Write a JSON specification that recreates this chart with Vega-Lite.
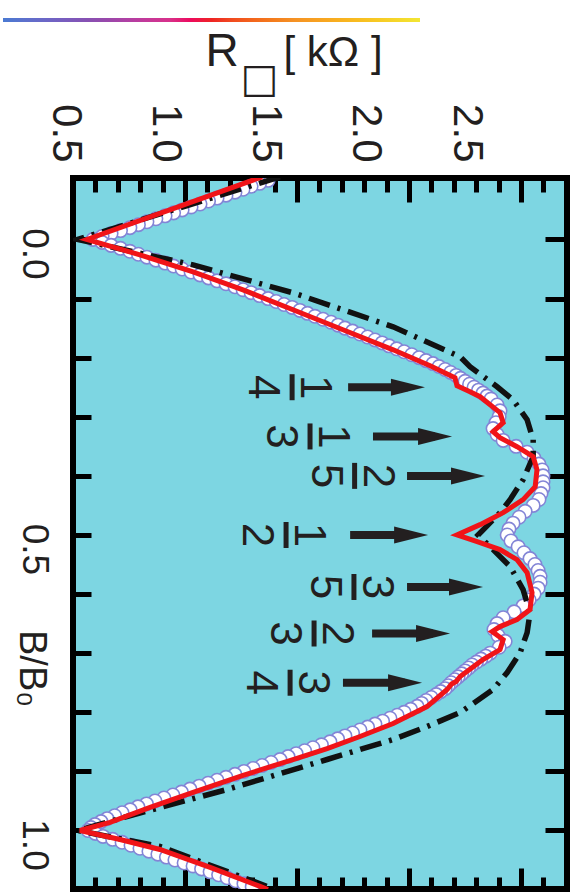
{
  "$schema": "https://vega.github.io/schema/vega-lite/v6.json",
  "width": 494,
  "height": 711,
  "autosize": {"type": "none"},
  "padding": {"left": 73, "top": 178, "right": 12, "bottom": 5},
  "background": "white",
  "config": {
    "view": {"fill": "#7dd6e2", "stroke": "#000000", "strokeWidth": 6},
    "axis": {"grid": false, "domain": false, "labelFlush": false, "labelOverlap": false, "labelFont": "Liberation Sans", "titleFont": "Liberation Sans", "titleFontWeight": "normal", "tickColor": "#000000", "labelColor": "#231f20", "titleColor": "#231f20"}
  },
  "datasets": {
    "circles": [
      {"b":-0.100,"r":1.371},{"b":-0.095,"r":1.333},{"b":-0.090,"r":1.295},{"b":-0.085,"r":1.259},{"b":-0.080,"r":1.223},{"b":-0.075,"r":1.183},{"b":-0.070,"r":1.143},{"b":-0.065,"r":1.105},{"b":-0.060,"r":1.067},{"b":-0.055,"r":1.027},
      {"b":-0.050,"r":0.987},{"b":-0.045,"r":0.949},{"b":-0.040,"r":0.911},{"b":-0.035,"r":0.870},{"b":-0.030,"r":0.830},{"b":-0.025,"r":0.792},{"b":-0.020,"r":0.754},{"b":-0.015,"r":0.712},{"b":-0.010,"r":0.670},{"b":-0.005,"r":0.630},
      {"b":0.000,"r":0.589},{"b":0.005,"r":0.630},{"b":0.010,"r":0.670},{"b":0.015,"r":0.712},{"b":0.020,"r":0.754},{"b":0.025,"r":0.792},{"b":0.030,"r":0.830},{"b":0.035,"r":0.870},{"b":0.040,"r":0.911},{"b":0.045,"r":0.949},
      {"b":0.050,"r":0.987},{"b":0.055,"r":1.027},{"b":0.060,"r":1.067},{"b":0.065,"r":1.105},{"b":0.070,"r":1.143},{"b":0.075,"r":1.183},{"b":0.080,"r":1.223},{"b":0.085,"r":1.259},{"b":0.090,"r":1.295},{"b":0.095,"r":1.333},
      {"b":0.100,"r":1.371},{"b":0.105,"r":1.407},{"b":0.110,"r":1.442},{"b":0.115,"r":1.478},{"b":0.120,"r":1.513},{"b":0.125,"r":1.547},{"b":0.130,"r":1.580},{"b":0.135,"r":1.616},{"b":0.140,"r":1.652},{"b":0.145,"r":1.683},
      {"b":0.150,"r":1.714},{"b":0.155,"r":1.748},{"b":0.160,"r":1.781},{"b":0.165,"r":1.815},{"b":0.170,"r":1.848},{"b":0.175,"r":1.880},{"b":0.180,"r":1.911},{"b":0.185,"r":1.945},{"b":0.190,"r":1.978},{"b":0.195,"r":2.012},
      {"b":0.200,"r":2.045},{"b":0.205,"r":2.076},{"b":0.210,"r":2.107},{"b":0.215,"r":2.134},{"b":0.220,"r":2.161},{"b":0.225,"r":2.186},{"b":0.230,"r":2.210},{"b":0.235,"r":2.230},{"b":0.240,"r":2.250},{"b":0.245,"r":2.270},
      {"b":0.250,"r":2.290},{"b":0.255,"r":2.310},{"b":0.260,"r":2.330},{"b":0.265,"r":2.348},{"b":0.270,"r":2.366},{"b":0.28,"r":2.393},{"b":0.29,"r":2.406},
      {"b":0.30,"r":2.402},{"b":0.31,"r":2.388},{"b":0.32,"r":2.375},{"b":0.33,"r":2.393},{"b":0.34,"r":2.420},{"b":0.35,"r":2.478},{"b":0.36,"r":2.527},{"b":0.37,"r":2.558},{"b":0.38,"r":2.580},{"b":0.39,"r":2.594},
      {"b":0.40,"r":2.598},{"b":0.41,"r":2.598},{"b":0.42,"r":2.598},{"b":0.43,"r":2.589},{"b":0.44,"r":2.580},{"b":0.45,"r":2.554},{"b":0.46,"r":2.518},{"b":0.47,"r":2.491},{"b":0.48,"r":2.464},{"b":0.49,"r":2.446},
      {"b":0.50,"r":2.438},{"b":0.51,"r":2.455},{"b":0.52,"r":2.487},{"b":0.53,"r":2.513},{"b":0.54,"r":2.540},{"b":0.55,"r":2.562},{"b":0.56,"r":2.576},{"b":0.57,"r":2.585},{"b":0.58,"r":2.585},{"b":0.59,"r":2.576},
      {"b":0.60,"r":2.558},{"b":0.61,"r":2.536},{"b":0.62,"r":2.509},{"b":0.63,"r":2.469},{"b":0.64,"r":2.420},{"b":0.65,"r":2.393},{"b":0.66,"r":2.379},{"b":0.67,"r":2.397},{"b":0.68,"r":2.429},{"b":0.69,"r":2.402},
      {"b":0.700,"r":2.362},{"b":0.705,"r":2.342},{"b":0.710,"r":2.321},{"b":0.715,"r":2.301},{"b":0.720,"r":2.281},{"b":0.725,"r":2.266},{"b":0.730,"r":2.250},{"b":0.735,"r":2.235},{"b":0.740,"r":2.219},{"b":0.745,"r":2.204},
      {"b":0.750,"r":2.188},{"b":0.755,"r":2.175},{"b":0.760,"r":2.161},{"b":0.765,"r":2.141},{"b":0.770,"r":2.121},{"b":0.775,"r":2.099},{"b":0.780,"r":2.076},{"b":0.785,"r":2.056},{"b":0.790,"r":2.036},{"b":0.795,"r":2.007},
      {"b":0.800,"r":1.978},{"b":0.805,"r":1.947},{"b":0.810,"r":1.915},{"b":0.815,"r":1.882},{"b":0.820,"r":1.848},{"b":0.825,"r":1.815},{"b":0.830,"r":1.781},{"b":0.835,"r":1.748},{"b":0.840,"r":1.714},{"b":0.845,"r":1.681},
      {"b":0.850,"r":1.647},{"b":0.855,"r":1.609},{"b":0.860,"r":1.571},{"b":0.865,"r":1.534},{"b":0.870,"r":1.496},{"b":0.875,"r":1.460},{"b":0.880,"r":1.424},{"b":0.885,"r":1.384},{"b":0.890,"r":1.344},{"b":0.895,"r":1.304},
      {"b":0.900,"r":1.263},{"b":0.905,"r":1.223},{"b":0.910,"r":1.183},{"b":0.915,"r":1.143},{"b":0.920,"r":1.103},{"b":0.925,"r":1.063},{"b":0.930,"r":1.022},{"b":0.935,"r":0.984},{"b":0.940,"r":0.946},{"b":0.945,"r":0.906},
      {"b":0.950,"r":0.866},{"b":0.955,"r":0.828},{"b":0.960,"r":0.790},{"b":0.965,"r":0.755},{"b":0.970,"r":0.719},{"b":0.975,"r":0.686},{"b":0.980,"r":0.652},{"b":0.985,"r":0.625},{"b":0.990,"r":0.598},{"b":0.995,"r":0.580},
      {"b":1.000,"r":0.567},{"b":1.005,"r":0.600},{"b":1.010,"r":0.634},{"b":1.015,"r":0.677},{"b":1.020,"r":0.719},{"b":1.025,"r":0.759},{"b":1.030,"r":0.799},{"b":1.035,"r":0.839},{"b":1.040,"r":0.879},{"b":1.045,"r":0.917},
      {"b":1.050,"r":0.955},{"b":1.055,"r":0.996},{"b":1.060,"r":1.036},{"b":1.065,"r":1.074},{"b":1.070,"r":1.112},{"b":1.075,"r":1.150},{"b":1.080,"r":1.188},{"b":1.085,"r":1.226},{"b":1.090,"r":1.263},{"b":1.095,"r":1.300}
    ],
    "red": [
      {"b":-0.106,"r":1.344},{"b":0.0,"r":0.5625},{"b":0.026,"r":0.799},{"b":0.0548,"r":1.036},{"b":0.0852,"r":1.259},{"b":0.119,"r":1.482},{"b":0.1528,"r":1.705},{"b":0.1867,"r":1.929},{"b":0.2137,"r":2.094},{"b":0.234,"r":2.205},{"b":0.2475,"r":2.214},{"b":0.2576,"r":2.272},{"b":0.266,"r":2.317},{"b":0.293,"r":2.406},{"b":0.310,"r":2.420},{"b":0.3253,"r":2.375},{"b":0.3354,"r":2.406},{"b":0.3506,"r":2.482},{"b":0.3675,"r":2.554},{"b":0.3895,"r":2.571},{"b":0.4182,"r":2.563},{"b":0.4402,"r":2.509},{"b":0.4622,"r":2.420},{"b":0.4825,"r":2.317},{"b":0.5,"r":2.214},{"b":0.5113,"r":2.304},{"b":0.5248,"r":2.406},{"b":0.5417,"r":2.482},{"b":0.5637,"r":2.527},{"b":0.5975,"r":2.549},{"b":0.6262,"r":2.540},{"b":0.6431,"r":2.482},{"b":0.655,"r":2.406},{"b":0.6634,"r":2.371},{"b":0.677,"r":2.420},{"b":0.6939,"r":2.406},{"b":0.7108,"r":2.330},{"b":0.7395,"r":2.228},{"b":0.748,"r":2.210},{"b":0.752,"r":2.190},{"b":0.7615,"r":2.170},{"b":0.7903,"r":2.080},{"b":0.8190,"r":1.929},{"b":0.8410,"r":1.781},{"b":0.8613,"r":1.634},{"b":0.8799,"r":1.482},{"b":0.9069,"r":1.259},{"b":0.9357,"r":1.036},{"b":0.9610,"r":0.844},{"b":0.9864,"r":0.665},{"b":1.0,"r":0.531},{"b":1.0152,"r":0.710},{"b":1.0321,"r":0.888},{"b":1.0625,"r":1.112},{"b":1.0946,"r":1.335},{"b":1.1,"r":1.370}
    ],
    "black": [
      {"b":-0.106,"r":1.424},{"b":0.0,"r":0.52},{"b":0.043,"r":1.036},{"b":0.0903,"r":1.482},{"b":0.1478,"r":1.929},{"b":0.1985,"r":2.228},{"b":0.2154,"r":2.272},{"b":0.2492,"r":2.393},{"b":0.2712,"r":2.464},{"b":0.3050,"r":2.527},{"b":0.3388,"r":2.554},{"b":0.3675,"r":2.554},{"b":0.4064,"r":2.509},{"b":0.4402,"r":2.451},{"b":0.4622,"r":2.406},{"b":0.5,"r":2.308},{"b":0.5248,"r":2.375},{"b":0.5535,"r":2.451},{"b":0.5924,"r":2.509},{"b":0.6313,"r":2.540},{"b":0.6651,"r":2.527},{"b":0.6989,"r":2.496},{"b":0.7327,"r":2.438},{"b":0.7615,"r":2.375},{"b":0.8004,"r":2.228},{"b":0.8241,"r":2.080},{"b":0.8461,"r":1.929},{"b":0.8799,"r":1.634},{"b":0.9306,"r":1.188},{"b":0.9763,"r":0.741},{"b":1.0,"r":0.52},{"b":1.0271,"r":0.888},{"b":1.0946,"r":1.366},{"b":1.1,"r":1.400}
    ],
    "ann": [
      {"num":"1","den":"4","b":0.25,"r_start":1.728,"r_tip":2.071,"r_bar":1.478},
      {"num":"1","den":"3","b":0.3333,"r_start":1.839,"r_tip":2.192,"r_bar":1.558},
      {"num":"2","den":"5","b":0.4,"r_start":1.991,"r_tip":2.339,"r_bar":1.757},
      {"num":"1","den":"2","b":0.5,"r_start":1.737,"r_tip":2.085,"r_bar":1.451},
      {"num":"3","den":"5","b":0.588,"r_start":1.991,"r_tip":2.330,"r_bar":1.754},
      {"num":"2","den":"3","b":0.6667,"r_start":1.835,"r_tip":2.183,"r_bar":1.576},
      {"num":"3","den":"4","b":0.75,"r_start":1.705,"r_tip":2.058,"r_bar":1.469}
    ]
  },
  "resolve": {"axis": {"x": "independent", "y": "independent"}},
  "layer": [
    {
      "data": {"name": "circles"},
      "mark": {"type": "point", "filled": true, "fill": "white", "stroke": "#8385d6", "strokeWidth": 1.6, "size": 180, "opacity": 1, "clip": true},
      "encoding": {
        "x": {"field": "r", "type": "quantitative", "scale": {"domain": [0.5, 2.705], "nice": false, "zero": false},
          "axis": {"orient": "top", "values": [0.5, 1, 1.5, 2, 2.5], "format": ".1f", "ticks": false, "tickSize": 0, "labelAngle": 90, "labelAlign": "right", "labelBaseline": "middle", "labelPadding": 16, "labelFontSize": 42, "labelOffset": {"expr": "-8 - (datum.value - 0.5) * 23.5"}, "title": "R", "titleFontSize": 46, "titleAngle": 0, "titleAlign": "left", "titleBaseline": "alphabetic", "titleX": 132, "titleY": -113}},
        "y": {"field": "b", "type": "quantitative", "scale": {"domain": [-0.104, 1.099], "nice": false, "zero": false, "reverse": true},
          "axis": {"orient": "left", "values": [0, 0.5, 1], "format": ".1f", "ticks": false, "tickSize": 0, "labelAngle": 90, "labelAlign": "center", "labelBaseline": "top", "labelPadding": 22, "labelFontSize": 37, "labelOffset": 14, "title": "B/B₀", "titleFontSize": 38, "titleAngle": 90, "titleAlign": "center", "titleBaseline": "top", "titleX": -24, "titleY": 490}}
      }
    },
    {
      "data": {"name": "black"},
      "mark": {"type": "line", "color": "#111111", "strokeWidth": 5.5, "strokeDash": [22, 8, 3, 8], "clip": true},
      "encoding": {
        "x": {"field": "r", "type": "quantitative", "scale": {"domain": [0.5, 2.705], "nice": false, "zero": false},
          "axis": {"orient": "top", "values": [0.5, 1, 1.5, 2, 2.5], "labels": false, "tickSize": 24, "offset": -24, "tickWidth": 5, "title": null}},
        "y": {"field": "b", "type": "quantitative", "scale": {"domain": [-0.104, 1.099], "nice": false, "zero": false, "reverse": true},
          "axis": {"orient": "left", "values": [0, 0.1, 0.2, 0.3, 0.4, 0.5, 0.6, 0.7, 0.8, 0.9, 1.0], "labels": false, "tickSize": 18, "offset": -18, "tickWidth": 5, "title": null}},
        "order": {"field": "b", "type": "quantitative"}
      }
    },
    {
      "data": {"name": "red"},
      "mark": {"type": "line", "color": "#f01418", "strokeWidth": 5, "clip": true},
      "encoding": {
        "x": {"field": "r", "type": "quantitative", "scale": {"domain": [0.5, 2.705], "nice": false, "zero": false},
          "axis": {"orient": "top", "values": [0.6, 0.7, 0.8, 0.9, 1.1, 1.2, 1.3, 1.4, 1.6, 1.7, 1.8, 1.9, 2.1, 2.2, 2.3, 2.4, 2.6], "labels": false, "tickSize": 14, "offset": -14, "tickWidth": 5, "title": null}},
        "y": {"field": "b", "type": "quantitative", "scale": {"domain": [-0.104, 1.099], "nice": false, "zero": false, "reverse": true},
          "axis": {"orient": "right", "values": [0, 0.1, 0.2, 0.3, 0.4, 0.5, 0.6, 0.7, 0.8, 0.9, 1.0], "labels": false, "tickSize": 22, "offset": -22, "tickWidth": 5, "title": null}},
        "order": {"field": "b", "type": "quantitative"}
      }
    },
    {
      "data": {"name": "ann"},
      "mark": {"type": "rule", "color": "#231f20", "strokeWidth": 8, "x2Offset": -17},
      "encoding": {
        "x": {"field": "r_start", "type": "quantitative", "scale": {"domain": [0.5, 2.705], "nice": false, "zero": false},
          "axis": {"orient": "bottom", "values": [0.5, 1, 1.5, 2, 2.5], "labels": false, "tickSize": 21, "offset": -21, "tickWidth": 5, "title": null}},
        "x2": {"field": "r_tip"},
        "y": {"field": "b", "type": "quantitative", "scale": {"domain": [-0.104, 1.099], "nice": false, "zero": false, "reverse": true}, "axis": null}
      }
    },
    {
      "data": {"name": "ann"},
      "mark": {"type": "point", "shape": "M -2 -0.5 L 0 0 L -2 0.5 Z", "size": 1156, "filled": true, "fill": "#231f20", "opacity": 1, "strokeWidth": 0},
      "encoding": {
        "x": {"field": "r_tip", "type": "quantitative", "scale": {"domain": [0.5, 2.705], "nice": false, "zero": false},
          "axis": {"orient": "bottom", "values": [0.6, 0.7, 0.8, 0.9, 1.1, 1.2, 1.3, 1.4, 1.6, 1.7, 1.8, 1.9, 2.1, 2.2, 2.3, 2.4, 2.6], "labels": false, "tickSize": 12, "offset": -12, "tickWidth": 5, "title": null}},
        "y": {"field": "b", "type": "quantitative", "scale": {"domain": [-0.104, 1.099], "nice": false, "zero": false, "reverse": true}, "axis": null},
        "stroke": {"field": "b", "type": "quantitative",
          "scale": {"domain": [0, 0.22, 0.4, 0.5, 0.7, 1], "range": ["#4a7ad2", "#8a4cae", "#d8308a", "#ee2424", "#f59224", "#f2e634"]},
          "legend": {"orient": "none", "legendX": -70, "legendY": -160, "direction": "horizontal", "gradientLength": 417, "gradientThickness": 4, "gradientStrokeWidth": 0, "title": null, "labelOpacity": 0, "labelFontSize": 1, "padding": 0, "offset": 0}}
      }
    },
    {
      "data": {"name": "ann"},
      "mark": {"type": "tick", "orient": "vertical", "size": 26, "thickness": 5, "color": "#231f20", "opacity": 1},
      "encoding": {
        "x": {"field": "r_bar", "type": "quantitative", "scale": {"domain": [0.5, 2.705], "nice": false, "zero": false},
          "axis": {"orient": "top", "values": [], "labels": false, "ticks": false, "title": "□", "titleFont": "DejaVu Sans", "titleFontSize": 40, "titleAngle": 0, "titleAlign": "left", "titleBaseline": "alphabetic", "titleX": 167, "titleY": -87}},
        "y": {"field": "b", "type": "quantitative", "scale": {"domain": [-0.104, 1.099], "nice": false, "zero": false, "reverse": true}, "axis": null}
      }
    },
    {
      "data": {"name": "ann"},
      "mark": {"type": "text", "angle": 90, "align": "center", "baseline": "middle", "dy": -22, "fontSize": 44, "font": "Liberation Sans", "color": "#231f20"},
      "encoding": {
        "x": {"field": "r_bar", "type": "quantitative", "scale": {"domain": [0.5, 2.705], "nice": false, "zero": false},
          "axis": {"orient": "top", "values": [], "labels": false, "ticks": false, "title": "[ kΩ ]", "titleFontSize": 42, "titleAngle": 0, "titleAlign": "left", "titleBaseline": "alphabetic", "titleX": 210, "titleY": -113}},
        "y": {"field": "b", "type": "quantitative", "scale": {"domain": [-0.104, 1.099], "nice": false, "zero": false, "reverse": true}, "axis": null},
        "text": {"field": "num"}
      }
    },
    {
      "data": {"name": "ann"},
      "mark": {"type": "text", "angle": 90, "align": "center", "baseline": "middle", "dy": 30, "fontSize": 44, "font": "Liberation Sans", "color": "#231f20"},
      "encoding": {
        "x": {"field": "r_bar", "type": "quantitative", "scale": {"domain": [0.5, 2.705], "nice": false, "zero": false}, "axis": null},
        "y": {"field": "b", "type": "quantitative", "scale": {"domain": [-0.104, 1.099], "nice": false, "zero": false, "reverse": true}, "axis": null},
        "text": {"field": "den"}
      }
    }
  ]
}
